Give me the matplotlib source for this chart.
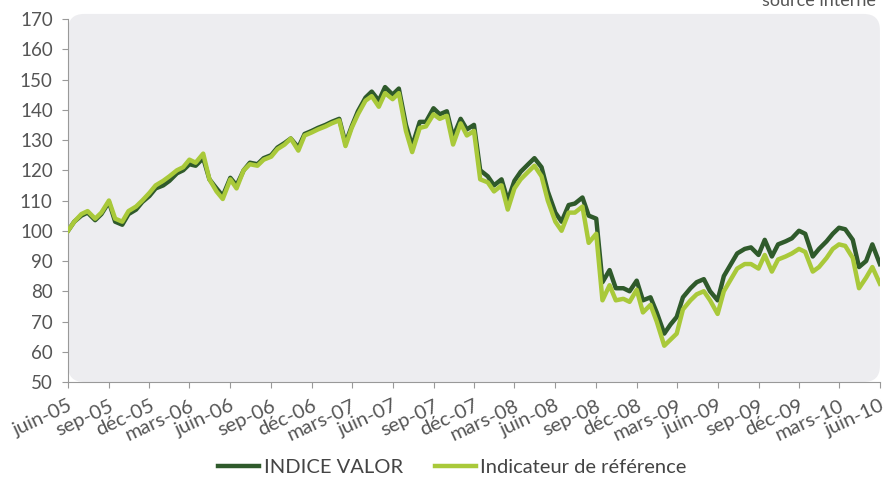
import pandas as pd
import matplotlib
matplotlib.use("Agg")
import matplotlib.pyplot as plt
from matplotlib.patches import FancyBboxPatch

plt.rcParams['font.family'] = ['Lato', 'DejaVu Sans']

# semi-monthly observations, juin-05 -> juin-10
dates = pd.date_range('2005-06-01', '2010-06-01', freq='SMS')

indicateur = [100, 103, 105.5, 106.5, 104, 106, 110, 104, 103, 106.5,
              108, 110, 112.5, 115, 116.5, 118, 120, 121, 123.5, 122.5,
              125.5, 117, 113, 110.5, 117, 114, 120, 122, 121.5, 123.5,
              124.5, 127, 128.5, 130.5, 126.5, 131.5, 132.5, 133.5, 134.5, 135.5,
              136.5, 128, 134, 138.5, 143, 144.5, 141, 145.5, 143.5, 145.5,
              133, 126, 134, 134.5, 138.5, 137, 138, 128.5, 135.5, 131.5,
              133, 117, 116, 113, 115, 107, 114, 117, 119.5, 121.5,
              118, 110, 103, 100, 106, 106, 108, 96, 99, 77,
              82, 77, 77.5, 76.5, 80.5, 73, 75.5, 70, 62, 64,
              66, 74, 77, 79, 80, 77, 72.5, 80, 84, 87.5,
              89, 89, 87.5, 92, 86.5, 90.5, 91.5, 92.5, 94, 93,
              86.5, 88, 91, 94, 95.5, 95, 91, 81, 84.5, 88,
              82.5]

valor = [100, 103, 105, 106, 103.5, 105.5, 109.5, 103, 102, 105.5,
         107, 109.5, 111.5, 114, 115, 116.5, 119, 120, 122, 121.5,
         124, 117, 114, 111.5, 117.5, 115, 120, 122.5, 122, 124,
         125, 127.5, 129, 130.5, 127.5, 132, 133, 134, 135, 136,
         137, 129, 134.5, 139.5, 144, 146, 143, 147.5, 145, 147,
         135, 128, 136, 136, 140.5, 138.5, 139.5, 131, 137, 133.5,
         135, 120, 118, 115, 117, 110, 116.5, 119.5, 122, 124,
         121, 113, 106, 103, 108.5, 109, 111, 105, 104, 83,
         87, 81, 81, 80, 83.5, 77, 78, 73, 66, 69,
         71.5, 78, 81, 83, 84, 80, 77, 85, 89, 92.5,
         94, 94.5, 92, 97, 91.5, 95.5, 96.5, 97.5, 100, 99,
         91.5, 94, 96.5, 99, 101, 100.5, 97, 88, 90, 95.5,
         89]

tick_dates = pd.date_range('2005-06-01', '2010-06-01', freq='3MS')
mois = {3: 'mars', 6: 'juin', 9: 'sep', 12: 'déc'}
tick_labels = [f"{mois[d.month]}-{d.strftime('%y')}" for d in tick_dates]

dark = '#2f5a2b'
light = '#a9c93a'
grey = '#555555'

fig = plt.figure(figsize=(8.87, 4.79), dpi=100)
ax = fig.add_axes([0.0767, 0.2025, 0.9153, 0.7578])

# rounded grey panel behind the curves
panel = FancyBboxPatch((0, 0), 1, 1.014, boxstyle='round,pad=0,rounding_size=0.02',
                       mutation_aspect=2.2, transform=ax.transAxes,
                       facecolor='#ededf0', edgecolor='none', clip_on=False, zorder=0)
ax.add_patch(panel)
ax.set_facecolor('none')

ax.plot(dates, valor, color=dark, lw=3.2, label='INDICE VALOR', zorder=2)
ax.plot(dates, indicateur, color=light, lw=3.2, label='Indicateur de référence', zorder=3)

ax.set_xlim(dates[0], dates[-1])
ax.set_ylim(50, 170)
ax.set_yticks(range(50, 171, 10))
ax.set_xticks(tick_dates)
ax.set_xticklabels(tick_labels, rotation=25, ha='right', rotation_mode='anchor')

for s in ['top', 'right']:
    ax.spines[s].set_visible(False)
for s in ['left', 'bottom']:
    ax.spines[s].set_color('#999999')
    ax.spines[s].set_linewidth(0.8)
ax.tick_params(colors='#999999', labelcolor=grey, labelsize=13.5, length=4, width=0.8)
ax.tick_params(axis='y', pad=7)
ax.tick_params(axis='x', pad=7, labelsize=14.5)

fig.legend(loc='center', bbox_to_anchor=(0.51, 0.024), ncol=2, frameon=False,
           fontsize=14.5, handlelength=2.05, columnspacing=1.6, handletextpad=0.2,
           labelcolor='#444444')

fig.text(0.988, 0.998, 'source interne', ha='right', va='center', fontsize=13, color=grey)

fig.savefig('out.png', dpi=100)
